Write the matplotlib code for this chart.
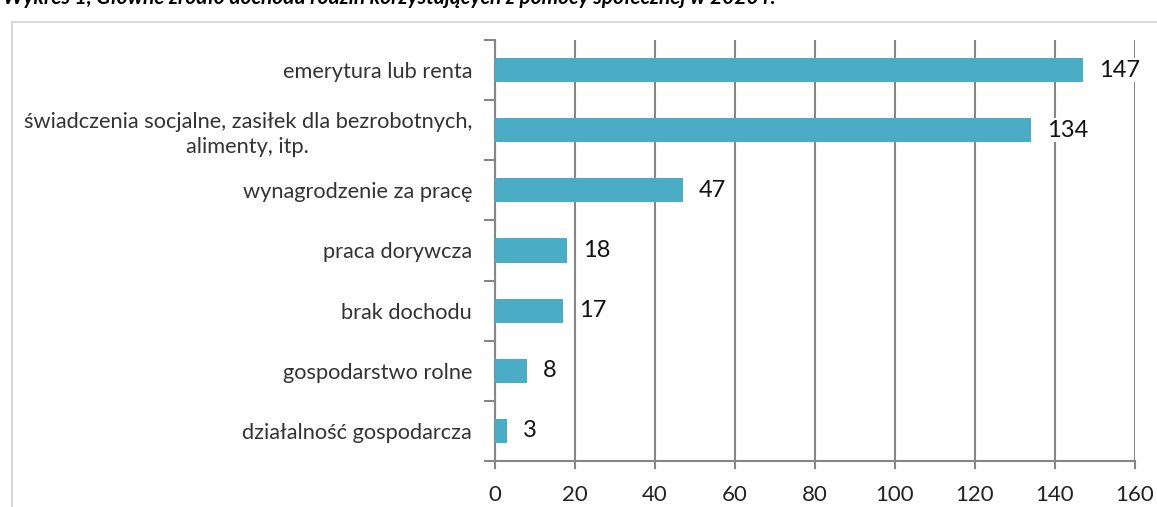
import matplotlib.pyplot as plt
import numpy as np
from matplotlib.patches import Rectangle

categories = ['emerytura lub renta',
              'świadczenia socjalne, zasiłek dla bezrobotnych,\nalimenty, itp.',
              'wynagrodzenie za pracę',
              'praca dorywcza',
              'brak dochodu',
              'gospodarstwo rolne',
              'działalność gospodarcza']
values = [147, 134, 47, 18, 17, 8, 3]
x_ticks = [0, 20, 40, 60, 80, 100, 120, 140, 160]

bar_color = '#4BACC6'
grid_color = '#868686'
font = ['Lato', 'DejaVu Sans']

plt.rcParams['font.family'] = font

fig = plt.figure(figsize=(11.57, 5.07), dpi=100)
ax = fig.add_axes([495/1157, 1 - 461/507, 640/1157, 421/507])

ypos = np.arange(len(categories))
ax.barh(ypos, values, height=0.4, color=bar_color, zorder=3)
ax.set_ylim(len(categories) - 0.5, -0.5)
ax.set_xlim(0, 160)

ax.set_xticks(x_ticks)
ax.set_xticklabels([str(t) for t in x_ticks], fontsize=16, color='#222222')
ax.set_yticks(ypos)
ax.set_yticklabels(categories, fontsize=15.7, color='#333333', linespacing=1.3)
for lbl in ax.get_yticklabels():
    lbl.set_multialignment('center')
ax.set_yticks(np.arange(-0.5, len(categories), 1), minor=True)
ax.tick_params(axis='y', which='major', length=0, pad=16.5)
ax.tick_params(axis='y', which='minor', length=8, width=1.5, color=grid_color)
ax.tick_params(axis='x', which='major', length=6, width=1.5, color=grid_color, pad=11, direction='out')

ax.grid(axis='x', color=grid_color, linewidth=1.5, zorder=0)
for s in ['top', 'right']:
    ax.spines[s].set_visible(False)
for s in ['left', 'bottom']:
    ax.spines[s].set_color(grid_color)
    ax.spines[s].set_linewidth(1.5)

for y, v in zip(ypos, values):
    ax.text(v + 4, y, str(v), va='center', ha='left', fontsize=17, color='#111111',
            bbox=dict(facecolor='white', edgecolor='none', pad=1), zorder=4)

# chart frame (partly cut off)
fig.patches.append(Rectangle((12/1157, -0.1), 1.2, 1 - 22/507 + 0.1,
                             transform=fig.transFigure, fill=False,
                             edgecolor='#d9d9d9', linewidth=1.5))

fig.text(0.003, 1.0 + 2/507, 'Wykres 1, Główne źródło dochodu rodzin korzystających z pomocy społecznej w 2020 r.',
         fontsize=15, fontweight='bold', fontstyle='italic', va='center', ha='left', family=font)

fig.savefig('out.png', dpi=100)
